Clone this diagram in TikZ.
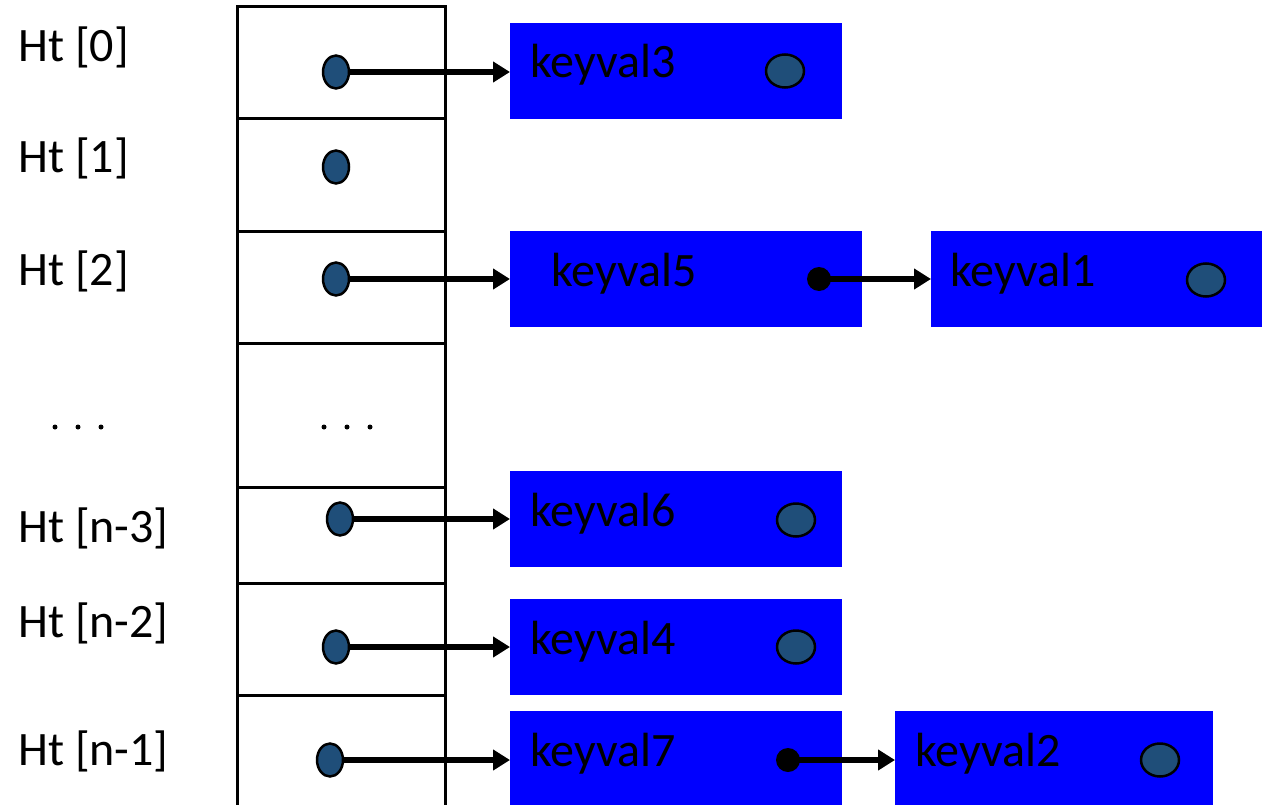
\documentclass[tikz,border=0pt]{standalone}
\usepackage{fontspec}
\setmainfont{Carlito}
\usetikzlibrary{arrows.meta,shapes.geometric}
\definecolor{dotblue}{RGB}{31,78,121}
\definecolor{boxblue}{RGB}{0,0,255}
\tikzset{
  lbl/.style={anchor=base west, inner sep=0pt, font=\fontsize{48}{56}\selectfont},
  kv/.style={anchor=base west, inner sep=0pt, font=\fontsize{48}{56}\selectfont, text=black},
  cell/.style={draw=black, line width=3pt},
  ptr/.style={ellipse, draw=black, line width=2.5pt, fill=dotblue, inner sep=0pt, minimum width=26pt, minimum height=33pt},
  nptr/.style={ellipse, draw=black, line width=2.5pt, fill=dotblue, inner sep=0pt, minimum width=38pt, minimum height=33pt},
  bdot/.style={circle, fill=black, inner sep=0pt, minimum size=24pt},
  sdot/.style={circle, fill=black, inner sep=0pt, minimum size=5pt},
  kbox/.style={rectangle, fill=boxblue, inner sep=0pt, anchor=north west, minimum height=96pt},
  link/.style={line width=5.5pt, -{Triangle[length=17pt,width=20pt]}}
}
\begin{document}
\begin{tikzpicture}[x=1pt,y=-1pt]
\useasboundingbox (0,0) rectangle (1265,805);
% table
\draw[cell] (237,7) rectangle (445,810);
\foreach \yy in {119,231,343,487,583,695} \draw[cell] (237,\yy) -- (445,\yy);
% labels
\node[lbl] (h0) at (18,62) {Ht [0]};
\node[lbl] (h1) at (18,173) {Ht [1]};
\node[lbl] (h2) at (18,285) {Ht [2]};
\node[lbl] (h3) at (18,542) {Ht [n-3]};
\node[lbl] (h4) at (18,637) {Ht [n-2]};
\node[lbl] (h5) at (18,765) {Ht [n-1]};
\foreach \xx [count=\i] in {55,78,101} \node[sdot] (ld\i) at (\xx,427) {};
\foreach \xx [count=\i] in {324,347,370} \node[sdot] (rd\i) at (\xx,427) {};
% boxes
\node[kbox, minimum width=332pt] (b3) at (510,23) {};
\node[kbox, minimum width=352pt] (b5) at (510,231) {};
\node[kbox, minimum width=331pt] (b1) at (931,231) {};
\node[kbox, minimum width=332pt] (b6) at (510,471) {};
\node[kbox, minimum width=332pt] (b4) at (510,599) {};
\node[kbox, minimum width=332pt, minimum height=94pt] (b7) at (510,711) {};
\node[kbox, minimum width=318pt, minimum height=94pt] (b2) at (895,711) {};
% box texts
\node[kv] (t3) at (530,78) {keyval3};
\node[kv] (t5) at (551,286) {keyval5};
\node[kv] (t1) at (950,286) {keyval1};
\node[kv] (t6) at (530,526) {keyval6};
\node[kv] (t4) at (530,654) {keyval4};
\node[kv] (t7) at (530,766) {keyval7};
\node[kv] (t2) at (915,766) {keyval2};
% null pointers in boxes
\node[nptr] (n3) at (785,71) {};
\node[nptr] (n1) at (1206,280) {};
\node[nptr] (n6) at (796,520) {};
\node[nptr] (n4) at (796,647) {};
\node[nptr] (n2) at (1160,760) {};
% table pointers
\node[ptr] (d0) at (336,72) {};
\node[ptr] (d1) at (336,167) {};
\node[ptr] (d2) at (336,279) {};
\node[ptr] (d3) at (340,519) {};
\node[ptr] (d4) at (336,647) {};
\node[ptr] (d5) at (330,760) {};
% next pointers
\node[bdot] (p5) at (819,279) {};
\node[bdot] (p7) at (788,760) {};
% links
\draw[link] (d0) -- (d0 -| b3.west);
\draw[link] (d2) -- (d2 -| b5.west);
\draw[link] (d3) -- (d3 -| b6.west);
\draw[link] (d4) -- (d4 -| b4.west);
\draw[link] (d5) -- (d5 -| b7.west);
\draw[link] (p5.center) -- (p5 -| b1.west);
\draw[link] (p7.center) -- (p7 -| b2.west);
\end{tikzpicture}
\end{document}
